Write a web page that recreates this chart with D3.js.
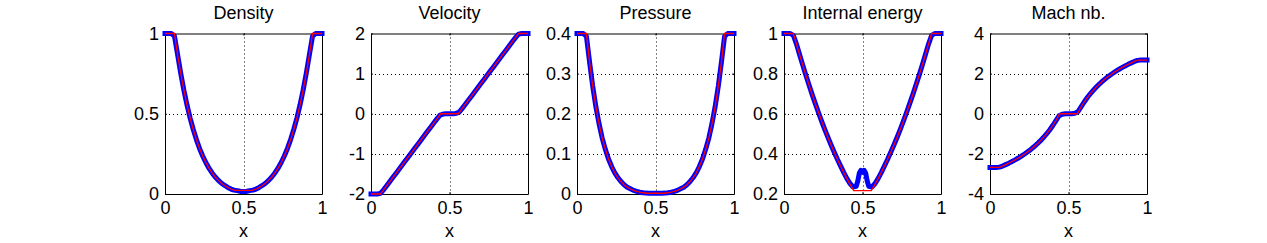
<!DOCTYPE html>
<html><head><meta charset="utf-8">
<script src="https://cdn.jsdelivr.net/npm/d3@7"></script>
<style>html,body{margin:0;padding:0;background:#fff;}svg{display:block;}</style>
</head><body>
<svg id="chart" width="1267" height="243"></svg>
<script>
const titles = ["Density", "Velocity", "Pressure", "Internal energy", "Mach nb."];
const xLabel = "x";
const xTicks = [0, 0.5, 1];
const yDomains = [[0, 1], [-2, 2], [0, 0.4], [0.2, 1], [-4, 4]];
const yTicks = [[0, 0.5, 1], [-2, -1, 0, 1, 2], [0, 0.1, 0.2, 0.3, 0.4], [0.2, 0.4, 0.6, 0.8, 1], [-4, -2, 0, 2, 4]];

// exact solution (red)
const xExact = [0, 0.06, 0.08, 0.10, 0.12, 0.14, 0.16, 0.18, 0.20, 0.22, 0.24, 0.26, 0.28, 0.30, 0.32, 0.34, 0.36, 0.38, 0.40, 0.42, 0.444,
  0.556, 0.58, 0.60, 0.62, 0.64, 0.66, 0.68, 0.70, 0.72, 0.74, 0.76, 0.78, 0.80, 0.82, 0.84, 0.86, 0.88, 0.90, 0.92, 0.94, 1];
const densityExact = [1, 1, 0.870, 0.753, 0.648, 0.555, 0.473, 0.402, 0.339, 0.284, 0.237, 0.196, 0.161, 0.131, 0.106, 0.085, 0.067, 0.053, 0.041, 0.031, 0.022,
  0.022, 0.031, 0.041, 0.053, 0.067, 0.085, 0.106, 0.131, 0.161, 0.196, 0.237, 0.284, 0.339, 0.402, 0.473, 0.555, 0.648, 0.753, 0.870, 1, 1];
const velocityExact = [-2, -2, -1.897, -1.793, -1.689, -1.584, -1.480, -1.376, -1.272, -1.168, -1.064, -0.960, -0.855, -0.751, -0.647, -0.543, -0.439, -0.335, -0.231, -0.126, 0,
  0, 0.126, 0.231, 0.335, 0.439, 0.543, 0.647, 0.751, 0.855, 0.960, 1.064, 1.168, 1.272, 1.376, 1.480, 1.584, 1.689, 1.793, 1.897, 2, 2];
const pressureExact = [0.4, 0.4, 0.329, 0.269, 0.218, 0.176, 0.140, 0.112, 0.088, 0.069, 0.053, 0.041, 0.031, 0.023, 0.017, 0.013, 0.009, 0.0065, 0.0045, 0.0031, 0.0019,
  0.0019, 0.0031, 0.0045, 0.0065, 0.009, 0.013, 0.017, 0.023, 0.031, 0.041, 0.053, 0.069, 0.088, 0.112, 0.140, 0.176, 0.218, 0.269, 0.329, 0.4, 0.4];
const energyExact = [1, 1, 0.946, 0.893, 0.841, 0.790, 0.742, 0.694, 0.649, 0.605, 0.562, 0.521, 0.482, 0.444, 0.408, 0.373, 0.340, 0.308, 0.278, 0.249, 0.217,
  0.217, 0.249, 0.278, 0.308, 0.340, 0.373, 0.408, 0.444, 0.482, 0.521, 0.562, 0.605, 0.649, 0.694, 0.742, 0.790, 0.841, 0.893, 0.946, 1, 1];
const machExact = [-2.674, -2.674, -2.607, -2.536, -2.462, -2.381, -2.297, -2.207, -2.110, -2.007, -1.896, -1.777, -1.646, -1.506, -1.354, -1.188, -1.007, -0.807, -0.586, -0.337, 0,
  0, 0.337, 0.586, 0.807, 1.007, 1.188, 1.354, 1.506, 1.646, 1.777, 1.896, 2.007, 2.110, 2.207, 2.297, 2.381, 2.462, 2.536, 2.607, 2.674, 2.674];

// numerical solution (blue)
const xNum = [0, 0.02, 0.04, 0.06, 0.08, 0.10, 0.12, 0.14, 0.16, 0.18, 0.20, 0.22, 0.24, 0.26, 0.28, 0.30, 0.32, 0.34, 0.36, 0.38, 0.40, 0.42, 0.44,
  0.46, 0.47, 0.48, 0.49, 0.50, 0.51, 0.52, 0.53, 0.54,
  0.56, 0.58, 0.60, 0.62, 0.64, 0.66, 0.68, 0.70, 0.72, 0.74, 0.76, 0.78, 0.80, 0.82, 0.84, 0.86, 0.88, 0.90, 0.92, 0.94, 0.96, 0.98, 1.00];
const densityNum = [1, 1, 1, 0.985, 0.870, 0.753, 0.648, 0.555, 0.473, 0.402, 0.339, 0.284, 0.237, 0.196, 0.161, 0.131, 0.106, 0.085, 0.067, 0.053, 0.041, 0.031, 0.024,
  0.021, 0.019, 0.016, 0.015, 0.016, 0.015, 0.016, 0.019, 0.021,
  0.024, 0.031, 0.041, 0.053, 0.067, 0.085, 0.106, 0.131, 0.161, 0.196, 0.237, 0.284, 0.339, 0.402, 0.473, 0.555, 0.648, 0.753, 0.870, 0.985, 1, 1, 1];
const velocityNum = [-2, -2, -2, -1.985, -1.897, -1.793, -1.689, -1.584, -1.480, -1.376, -1.272, -1.168, -1.064, -0.960, -0.855, -0.751, -0.647, -0.543, -0.439, -0.335, -0.231, -0.128, -0.035,
  -0.008, -0.003, -0.001, 0, 0, 0, 0.001, 0.003, 0.008,
  0.035, 0.128, 0.231, 0.335, 0.439, 0.543, 0.647, 0.751, 0.855, 0.960, 1.064, 1.168, 1.272, 1.376, 1.480, 1.584, 1.689, 1.793, 1.897, 1.985, 2, 2, 2];
const pressureNum = [0.4, 0.4, 0.4, 0.393, 0.329, 0.269, 0.218, 0.176, 0.140, 0.112, 0.088, 0.069, 0.053, 0.041, 0.031, 0.023, 0.017, 0.013, 0.009, 0.0065, 0.0045, 0.0031, 0.0022,
  0.0019, 0.0019, 0.0019, 0.0019, 0.0019, 0.0019, 0.0019, 0.0019, 0.0019,
  0.0022, 0.0031, 0.0045, 0.0065, 0.009, 0.013, 0.017, 0.023, 0.031, 0.041, 0.053, 0.069, 0.088, 0.112, 0.140, 0.176, 0.218, 0.269, 0.329, 0.393, 0.4, 0.4, 0.4];
const energyNum = [1, 1, 1, 0.99, 0.946, 0.893, 0.841, 0.790, 0.742, 0.694, 0.649, 0.605, 0.562, 0.521, 0.482, 0.444, 0.408, 0.373, 0.340, 0.308, 0.278, 0.252, 0.235,
  0.238, 0.265, 0.305, 0.318, 0.308, 0.318, 0.305, 0.265, 0.238,
  0.235, 0.252, 0.278, 0.308, 0.340, 0.373, 0.408, 0.444, 0.482, 0.521, 0.562, 0.605, 0.649, 0.694, 0.742, 0.790, 0.841, 0.893, 0.946, 0.99, 1, 1, 1];
const machNum = [-2.674, -2.674, -2.674, -2.66, -2.607, -2.536, -2.462, -2.381, -2.297, -2.207, -2.110, -2.007, -1.896, -1.777, -1.646, -1.506, -1.354, -1.188, -1.007, -0.807, -0.586, -0.34, -0.10,
  -0.02, -0.01, 0, 0, 0, 0, 0, 0.01, 0.02,
  0.10, 0.34, 0.586, 0.807, 1.007, 1.188, 1.354, 1.506, 1.646, 1.777, 1.896, 2.007, 2.110, 2.207, 2.297, 2.381, 2.462, 2.536, 2.607, 2.66, 2.674, 2.674, 2.674];

const exactSeries = [densityExact, velocityExact, pressureExact, energyExact, machExact];
const numSeries = [densityNum, velocityNum, pressureNum, energyNum, machNum];

(function () {
const svg = d3.select("#chart");
const font = "'Liberation Sans', Arial, Helvetica, sans-serif";
const fs = 18;
const lefts = [165, 371, 577, 784, 990];
const W = 157, yTop = 33.5, yBottom = 194;
const fmt = d => String(d);

titles.forEach((t, i) => {
  const g = svg.append("g").attr("transform", `translate(${lefts[i]},0)`);
  const x = d3.scaleLinear().domain([0, 1]).range([0, W]);
  const y = d3.scaleLinear().domain(yDomains[i]).range([yBottom, yTop]);

  // grid
  g.selectAll(".gx").data(xTicks.filter(v => v > 0 && v < 1)).join("line")
    .attr("x1", d => Math.round(x(d)) + 0.5).attr("x2", d => Math.round(x(d)) + 0.5)
    .attr("y1", yTop).attr("y2", yBottom)
    .attr("stroke", "#000").attr("stroke-width", 1).attr("stroke-dasharray", "1,3");
  const yd = yDomains[i];
  g.selectAll(".gy").data(yTicks[i].filter(v => v > yd[0] && v < yd[1])).join("line")
    .attr("y1", d => Math.round(y(d)) + 0.5).attr("y2", d => Math.round(y(d)) + 0.5)
    .attr("x1", 0).attr("x2", W)
    .attr("stroke", "#000").attr("stroke-width", 1).attr("stroke-dasharray", "1,3");

  // axes (box with inward ticks)
  const xa = g.append("g").attr("transform", `translate(0,${yBottom})`)
    .call(d3.axisBottom(x).tickValues(xTicks).tickSizeInner(-2).tickSizeOuter(0).tickPadding(7).tickFormat(fmt));
  const xt = g.append("g").attr("transform", `translate(0,${yTop})`)
    .call(d3.axisTop(x).tickValues(xTicks).tickSizeInner(-2).tickSizeOuter(0).tickFormat(""));
  const ya = g.append("g")
    .call(d3.axisLeft(y).tickValues(yTicks[i]).tickSizeInner(-2).tickSizeOuter(0).tickPadding(6).tickFormat(fmt));
  const yr = g.append("g").attr("transform", `translate(${W},0)`)
    .call(d3.axisRight(y).tickValues(yTicks[i]).tickSizeInner(-2).tickSizeOuter(0).tickFormat(""));
  [xa, xt, ya, yr].forEach(a => {
    a.selectAll("path,line").attr("stroke", "#000").attr("stroke-width", 1);
    a.selectAll("text").attr("font-family", font).attr("font-size", fs).attr("fill", "#000");
  });

  const line = d3.line().x(d => x(d[0])).y(d => y(d[1]));
  g.append("path").datum(xNum.map((v, k) => [v, numSeries[i][k]]))
    .attr("d", line).attr("fill", "none").attr("stroke", "#0000ff")
    .attr("stroke-width", 5).attr("stroke-linejoin", "round").attr("stroke-linecap", "square");
  g.append("path").datum(xExact.map((v, k) => [v, exactSeries[i][k]]))
    .attr("d", line).attr("fill", "none").attr("stroke", "#ff0000").attr("stroke-width", 1.3);

  g.append("text").attr("x", W / 2).attr("y", 19).attr("text-anchor", "middle")
    .attr("font-family", font).attr("font-size", fs).text(t);
  g.append("text").attr("x", W / 2).attr("y", 237).attr("text-anchor", "middle")
    .attr("font-family", font).attr("font-size", fs).text(xLabel);
});
})();
</script>
</body></html>
